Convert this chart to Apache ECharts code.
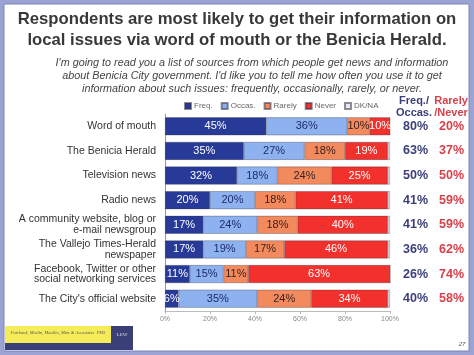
<!DOCTYPE html>
<html><head><meta charset="utf-8">
<script src="https://cdn.jsdelivr.net/npm/echarts@6/dist/echarts.min.js"></script>
<style>html,body{margin:0;padding:0;background:#9aa3d4;}#c{width:474px;height:355px;}</style>
</head><body><div id="c"></div>
<script>
var categories = ['Word of mouth', 'The Benicia Herald', 'Television news', 'Radio news',
  'A community website, blog or\ne-mail newsgroup', 'The Vallejo Times-Herald\nnewspaper',
  'Facebook, Twitter or other\nsocial networking services', "The City's official website"];
var seriesNames = ['Freq.', 'Occas.', 'Rarely', 'Never', 'DK/NA'];
var freq   = [45, 35, 32, 20, 17, 17, 11, 6];
var occas  = [36, 27, 18, 20, 24, 19, 15, 35];
var rarely = [10, 18, 24, 18, 18, 17, 11, 24];
var never  = [10, 19, 25, 41, 40, 46, 63, 34];
var dkna   = [0, 1, 1, 1, 1, 1, 0, 1];
var freqOccasTotals = [80, 63, 50, 41, 41, 36, 26, 40];
var rarelyNeverTotals = [20, 37, 50, 59, 59, 62, 74, 58];
var xTicks = [0, 20, 40, 60, 80, 100];

var FONT = '"Liberation Sans", Arial, sans-serif';
var colors = ['#283a98', '#8db2ef', '#f28a5e', '#f2302c', '#efe8f4'];
var labelColors = ['#ffffff', '#1f2a6a', '#3a2020', '#ffffff', '#333'];
var values = [freq, occas, rarely, never, dkna];

var chart = echarts.init(document.getElementById('c'), null, {renderer: 'canvas'});
var series = seriesNames.map(function (n, i) {
  return {
    name: n, type: 'bar', stack: 'all', barWidth: 18,
    data: values[i],
    itemStyle: {color: colors[i], borderColor: 'rgba(50,50,70,0.55)', borderWidth: 0.6},
    label: {
      show: i < 4, position: 'inside', color: labelColors[i],
      fontFamily: FONT, fontSize: 11,
      formatter: function (p) { return p.value > 0 ? p.value + '%' : ''; }
    }
  };
});

var option = {
  animation: false,
  backgroundColor: 'transparent',
  graphic: [
    {type: 'rect', shape: {x: 4, y: 4, width: 465, height: 347}, style: {fill: '#ffffff', stroke: '#7f86b8', lineWidth: 1}, z: -10},
    {type: 'text', style: {x: 237, y: 19, text: 'Respondents are most likely to get their information on', textAlign: 'center', textVerticalAlign: 'middle', font: 'bold 16.7px ' + FONT, fill: '#383838'}},
    {type: 'text', style: {x: 237, y: 40, text: 'local issues via word of mouth or the Benicia Herald.', textAlign: 'center', textVerticalAlign: 'middle', font: 'bold 16.7px ' + FONT, fill: '#383838'}},
    {type: 'text', style: {x: 252, y: 63, text: "I'm going to read you a list of sources from which people get news and information", textAlign: 'center', textVerticalAlign: 'middle', font: 'italic 10.8px ' + FONT, fill: '#444'}},
    {type: 'text', style: {x: 252, y: 76, text: "about Benicia City government. I'd like you to tell me how often you use it to get", textAlign: 'center', textVerticalAlign: 'middle', font: 'italic 10.8px ' + FONT, fill: '#444'}},
    {type: 'text', style: {x: 252, y: 89, text: 'information about such issues: frequently, occasionally, rarely, or never.', textAlign: 'center', textVerticalAlign: 'middle', font: 'italic 10.8px ' + FONT, fill: '#444'}},
    {type: 'text', style: {x: 414, y: 101, text: 'Freq./', textAlign: 'center', textVerticalAlign: 'middle', font: 'bold 11px ' + FONT, fill: '#3a3f78'}},
    {type: 'text', style: {x: 414, y: 113, text: 'Occas.', textAlign: 'center', textVerticalAlign: 'middle', font: 'bold 11px ' + FONT, fill: '#3a3f78'}},
    {type: 'text', style: {x: 451, y: 101, text: 'Rarely', textAlign: 'center', textVerticalAlign: 'middle', font: 'bold 11px ' + FONT, fill: '#d8404a'}},
    {type: 'text', style: {x: 451, y: 113, text: '/Never', textAlign: 'center', textVerticalAlign: 'middle', font: 'bold 11px ' + FONT, fill: '#d8404a'}},
    {type: 'rect', shape: {x: 5, y: 326, width: 106, height: 17}, style: {fill: '#f6ec5a'}},
    {type: 'rect', shape: {x: 5, y: 343, width: 106, height: 7}, style: {fill: '#3b3f78'}},
    {type: 'rect', shape: {x: 111, y: 326, width: 22, height: 24}, style: {fill: '#3b3f78'}},
    {type: 'text', style: {x: 58, y: 333, text: 'Fairbank, Maslin, Maullin, Metz & Associates  FM3', textAlign: 'center', textVerticalAlign: 'middle', font: 'italic 4.5px serif', fill: '#555'}},
    {type: 'text', style: {x: 122, y: 335, text: 'LEW', textAlign: 'center', textVerticalAlign: 'middle', font: '5px serif', fill: '#ddd'}},
    {type: 'text', style: {x: 462, y: 344, text: '27', textAlign: 'center', textVerticalAlign: 'middle', font: 'italic 6px ' + FONT, fill: '#555'}}
  ],
  legend: {
    data: seriesNames, left: 179, top: 97, itemWidth: 6, itemHeight: 6, itemGap: 8,
    icon: 'rect',
    textStyle: {fontFamily: FONT, fontSize: 8, color: '#666', padding: [0, 0, 0, -2]}
  },
  grid: {left: 165, right: 84, top: 114, height: 197, containLabel: false},
  xAxis: {
    type: 'value', min: 0, max: 100, interval: 20,
    axisLabel: {fontFamily: FONT, fontSize: 7, color: '#888', margin: 5,
      formatter: function (v) { return xTicks.indexOf(v) >= 0 ? v + '%' : ''; }},
    axisLine: {show: true, lineStyle: {color: '#bbb'}},
    axisTick: {show: true, length: 3, lineStyle: {color: '#bbb'}},
    splitLine: {show: false}
  },
  yAxis: [
    {type: 'category', data: categories, inverse: true,
      axisLine: {show: true, lineStyle: {color: '#999'}}, axisTick: {show: false},
      axisLabel: {fontFamily: FONT, fontSize: 10.5, color: '#333', margin: 9, lineHeight: 10.5}},
    {type: 'category', data: freqOccasTotals.map(function (v) { return v + '%'; }), inverse: true,
      position: 'right', offset: 0,
      axisLine: {show: false}, axisTick: {show: false},
      axisLabel: {fontFamily: FONT, fontSize: 12.5, fontWeight: 'bold', color: '#3a3f78', margin: 13}},
    {type: 'category', data: rarelyNeverTotals.map(function (v) { return v + '%'; }), inverse: true,
      position: 'right', offset: 36,
      axisLine: {show: false}, axisTick: {show: false},
      axisLabel: {fontFamily: FONT, fontSize: 12.5, fontWeight: 'bold', color: '#d8404a', margin: 13}}
  ],
  series: series
};
chart.setOption(option);
</script></body></html>
